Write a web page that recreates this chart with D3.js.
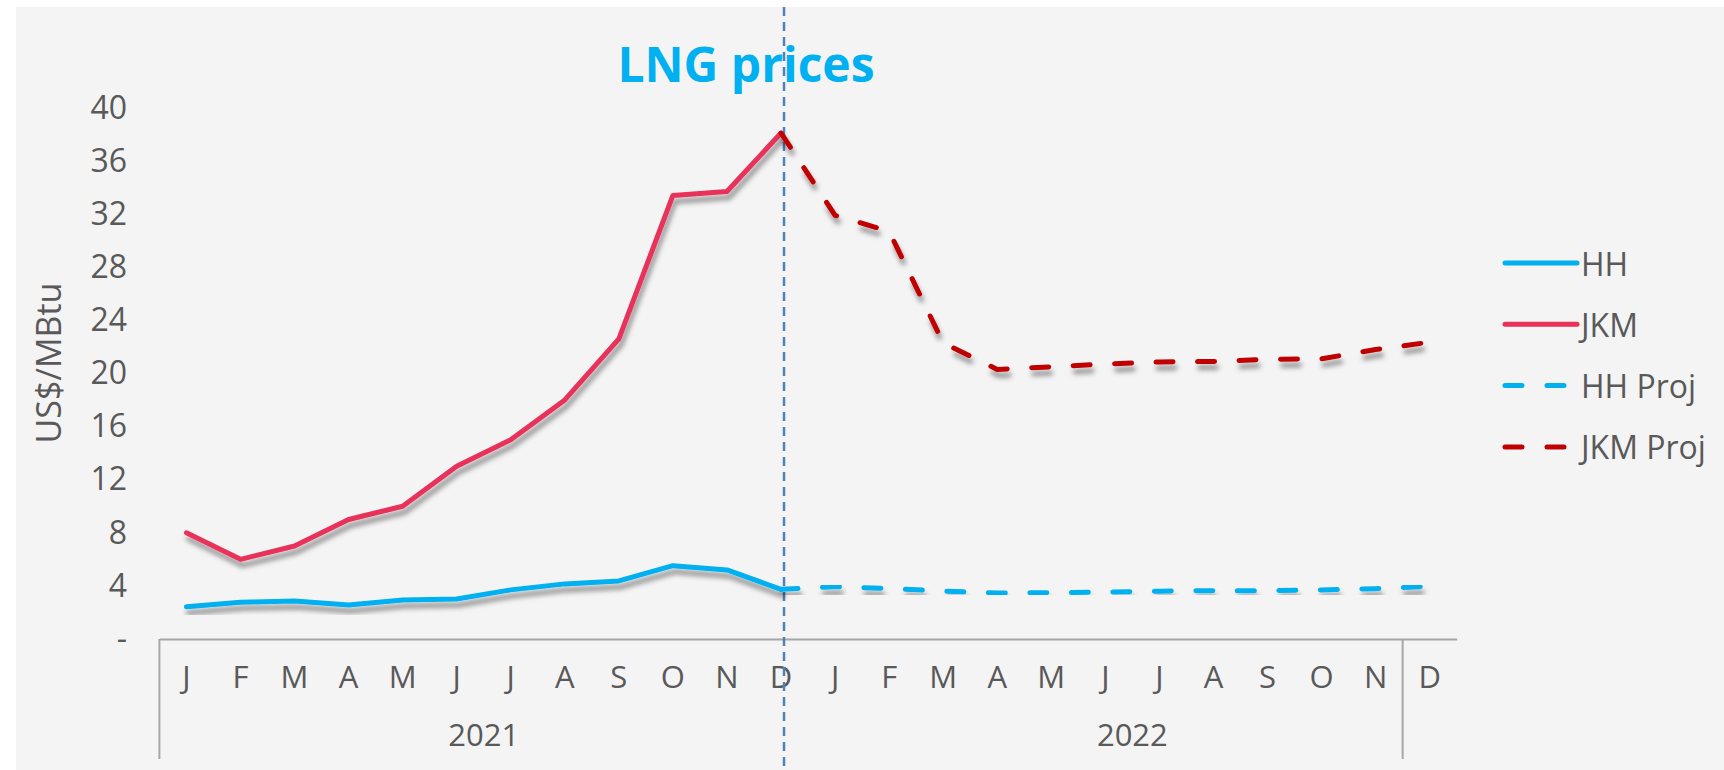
<!DOCTYPE html>
<html>
<head>
<meta charset="utf-8">
<script src="https://cdn.jsdelivr.net/npm/d3@7"></script>
<style>
  html, body { margin: 0; padding: 0; background: #ffffff; }
  svg { display: block; }
  text { font-family: "Open Sans", "Noto Sans", sans-serif; fill: #595959; }
</style>
</head>
<body>
<div id="chart"></div>
<script>
// months on the category axis (2021 then 2022)
var months = ["J","F","M","A","M","J","J","A","S","O","N","D",
              "J","F","M","A","M","J","J","A","S","O","N","D"];
var years = ["2021", "2022"];
var yTicks = [0, 4, 8, 12, 16, 20, 24, 28, 32, 36, 40];

// actuals, Jan-Dec 2021
var hh = [2.43, 2.76, 2.86, 2.56, 2.94, 3.01, 3.7, 4.15, 4.37, 5.52, 5.2, 3.74];
var jkm = [8.0, 6.0, 7.0, 9.0, 10.0, 13.0, 15.0, 18.0, 22.6, 33.4, 33.7, 38.1];

// projections, Dec 2021 - Dec 2022
var hhProj = [3.74, 3.94, 3.8, 3.61, 3.46, 3.49, 3.54, 3.6, 3.64, 3.64, 3.69, 3.79, 3.97];
var jkmProj = [38.1, 31.9, 30.7, 22.3, 20.3, 20.5, 20.7, 20.86, 20.9, 21.06, 21.1, 21.8, 22.35];

var width = 1724,
    height = 770;

var svg = d3.select("#chart")
    .append("svg")
    .attr("width", width)
    .attr("height", height);

var defs = svg.append("defs");
defs.append("filter")
    .attr("id", "shadow")
    .attr("x", "-10%").attr("y", "-10%")
    .attr("width", "120%").attr("height", "130%")
    .append("feDropShadow")
    .attr("dx", 2)
    .attr("dy", 6)
    .attr("stdDeviation", 2.5)
    .attr("flood-color", "#000")
    .attr("flood-opacity", 0.4);

svg.append("rect")
    .attr("x", 16).attr("y", 7)
    .attr("width", width - 16).attr("height", height - 7)
    .attr("fill", "#f4f4f4");

var x = d3.scaleBand()
    .domain(d3.range(months.length))
    .range([159.4, 1456.7]);

var y = d3.scaleLinear()
    .domain([0, 40])
    .range([639, 107.8]);

function cx(i) { return x(i) + x.bandwidth() / 2; }

// y axis labels
var yAxis = svg.append("g")
    .attr("transform", "translate(127,0)")
    .call(d3.axisLeft(y)
        .tickValues(yTicks)
        .tickSize(0)
        .tickPadding(0)
        .tickFormat(function (d) { return d === 0 ? "-" : d; }));
yAxis.select(".domain").remove();
yAxis.selectAll("text")
    .style("font-size", "32px")
    .attr("fill", "#595959");

svg.append("text")
    .attr("transform", "translate(48,363) rotate(-90)")
    .attr("text-anchor", "middle")
    .attr("dominant-baseline", "central")
    .style("font-size", "34px")
    .text("US$/MBtu");

// x axis
var xAxis = svg.append("g")
    .attr("transform", "translate(0," + y(0) + ")")
    .call(d3.axisBottom(x)
        .tickSize(0)
        .tickSizeOuter(0)
        .tickPadding(27)
        .tickFormat(function (i) { return months[i]; }));
xAxis.select(".domain")
    .attr("stroke", "#a6a6a6")
    .attr("stroke-width", 2);
xAxis.selectAll("text")
    .style("font-size", "31px")
    .attr("fill", "#595959");

// group separators of the two level axis
var sep = [x(0), x(23)];
svg.selectAll(".sep")
    .data(sep)
    .enter()
    .append("line")
    .attr("x1", function (d) { return d; })
    .attr("x2", function (d) { return d; })
    .attr("y1", y(0))
    .attr("y2", 759)
    .attr("stroke", "#a6a6a6")
    .attr("stroke-width", 2);

svg.selectAll(".year")
    .data(years)
    .enter()
    .append("text")
    .attr("x", function (d, i) { return x(i * 12) + x.bandwidth() * 6; })
    .attr("y", 746)
    .attr("text-anchor", "middle")
    .style("font-size", "31px")
    .text(function (d) { return d; });

// divider at Dec 2021
svg.append("line")
    .attr("x1", cx(11) + 3).attr("x2", cx(11) + 3)
    .attr("y1", 7).attr("y2", height)
    .attr("stroke", "#4f81bd")
    .attr("stroke-width", 2.5)
    .attr("stroke-dasharray", "9,6");

// title
svg.append("text")
    .attr("x", 746)
    .attr("y", 82)
    .attr("text-anchor", "middle")
    .style("font-size", "48px")
    .style("font-weight", "bold")
    .style("fill", "#00b0f0")
    .text("LNG prices");

var line = d3.line()
    .x(function (d) { return cx(d.i); })
    .y(function (d) { return y(d.v); });

var series = [
    { name: "HH", values: hh, start: 0, color: "#00b0f0", dash: null },
    { name: "JKM", values: jkm, start: 0, color: "#e8325a", dash: null },
    { name: "HH Proj", values: hhProj, start: 11, color: "#00b0f0", dash: "17,24.5" },
    { name: "JKM Proj", values: jkmProj, start: 11, color: "#c00000", dash: "17,24.5" }
];

series.forEach(function (s) {
    var pts = s.values.map(function (v, k) { return { i: s.start + k, v: v }; });
    svg.append("path")
        .attr("d", line(pts))
        .attr("fill", "none")
        .attr("stroke", s.color)
        .attr("stroke-width", 5)
        .attr("stroke-linejoin", "round")
        .attr("stroke-linecap", "round")
        .attr("stroke-dasharray", s.dash)
        .attr("filter", "url(#shadow)");
});

// legend
var legend = svg.selectAll(".legend")
    .data(series)
    .enter()
    .append("g")
    .attr("transform", function (d, i) { return "translate(1505," + (263 + i * 61.3) + ")"; });

legend.append("line")
    .attr("x1", 0).attr("x2", 72)
    .attr("stroke", function (d) { return d.color; })
    .attr("stroke-width", 5)
    .attr("stroke-linecap", "round")
    .attr("stroke-dasharray", function (d) { return d.dash ? "17,25" : null; });

legend.append("text")
    .attr("x", 76)
    .attr("y", 0)
    .attr("dominant-baseline", "central")
    .style("font-size", "32px")
    .text(function (d) { return d.name; });
</script>
</body>
</html>
